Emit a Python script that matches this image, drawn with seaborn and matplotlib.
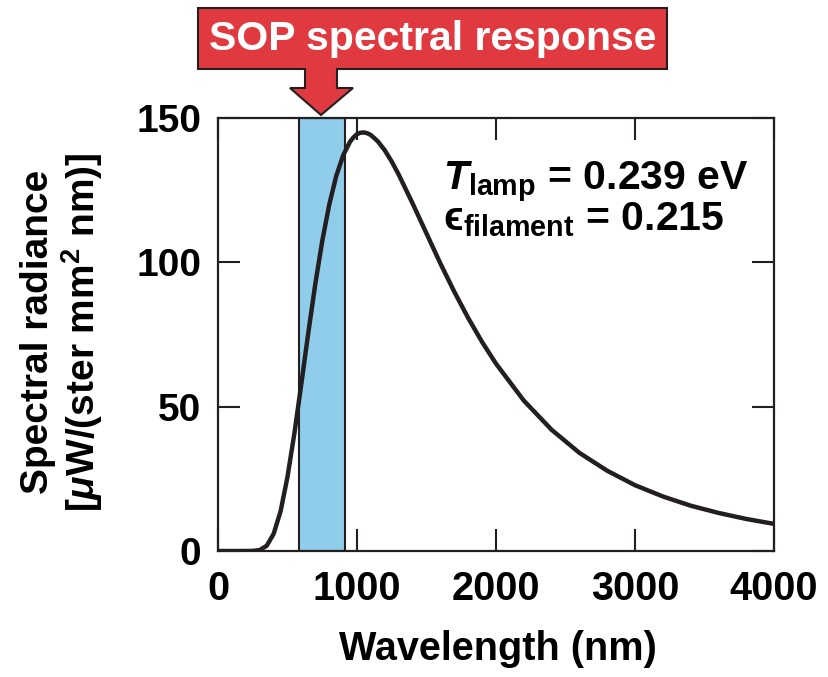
import matplotlib
matplotlib.use("Agg")
import matplotlib.pyplot as plt
import seaborn as sns
import pandas as pd
from matplotlib.patches import Polygon

# ---- data ----
wavelength_nm = [0, 100, 200, 250, 300, 350, 400, 450, 500, 550, 600, 650, 700, 750,
                 800, 850, 900, 950, 975, 1000, 1025, 1050, 1075, 1100, 1150, 1200, 1250,
                 1300, 1400, 1500, 1600,
                 1700, 1800, 1900, 2000, 2200, 2400, 2600, 2800, 3000, 3200, 3400,
                 3600, 3800, 4000]
radiance = [0.0, 0.0, 0.0, 0.03, 0.33, 1.8, 5.9, 13.7, 25.7, 40.9, 58.1, 75.7, 92.5, 107.4,
            119.9, 129.8, 137.0, 141.8, 143.3, 144.4, 144.9, 145.0, 144.7, 144.1, 141.9, 138.8, 134.9,
            130.4, 120.4, 110.0, 99.6,
            89.8, 80.7, 72.4, 64.9, 52.1, 42.0, 34.0, 27.8, 22.8, 18.9, 15.7,
            13.2, 11.1, 9.4]
band_nm = [585, 915]
x_ticks = [0, 1000, 2000, 3000, 4000]
y_ticks = [0, 50, 100, 150]
title_text = "SOP spectral response"
ann_line1 = r"$T_{\mathrm{lamp}}$ = 0.239 eV"
ann_line2 = r"$\mathrm{ϵ}_{\mathrm{filament}}$ = 0.215"

sns.set_theme(style="ticks")
plt.rcParams["font.family"] = ["Liberation Sans", "DejaVu Sans"]
plt.rcParams["font.weight"] = "bold"
plt.rcParams["mathtext.fontset"] = "custom"
plt.rcParams["mathtext.rm"] = "Liberation Sans:bold"
plt.rcParams["mathtext.it"] = "Liberation Sans:italic:bold"
plt.rcParams["mathtext.bf"] = "Liberation Sans:bold"
plt.rcParams["mathtext.fallback"] = "stixsans"
plt.rcParams["text.color"] = "black"
plt.rcParams["axes.labelcolor"] = "black"

W, H = 829, 677
fig = plt.figure(figsize=(W / 100, H / 100), dpi=100)
ax = fig.add_axes([218 / W, (H - 551) / H, (774 - 218) / W, (551 - 118) / H])

dark = "#231f20"
ax.axvspan(band_nm[0], band_nm[1], facecolor="#8fcdeb", edgecolor=dark, linewidth=1.5, zorder=1)

df = pd.DataFrame({"Wavelength": wavelength_nm, "Radiance": radiance})
sns.lineplot(data=df, x="Wavelength", y="Radiance", ax=ax, color=dark, linewidth=3.2, zorder=3)

ax.set_xlim(0, 4000)
ax.set_ylim(0, 150)
ax.set_xticks(x_ticks)
ax.set_yticks(y_ticks)
ax.set_xticklabels([str(v) for v in x_ticks])
ax.set_yticklabels([str(v) for v in y_ticks])
ax.tick_params(direction="in", length=16, width=1.5, colors=dark, labelcolor="black",
               top=True, right=True)
ax.tick_params(axis="x", labelsize=28.5, pad=13.5)
ax.tick_params(axis="y", labelsize=28, pad=12)
for lab in ax.get_xticklabels() + ax.get_yticklabels():
    lab.set_fontweight("bold")
for s in ax.spines.values():
    s.set_linewidth(1.6)
    s.set_color(dark)

ax.set_xlabel("Wavelength (nm)", fontsize=28.5, fontweight="bold")
ax.xaxis.set_label_coords(0.503, -0.182)
ax.set_ylabel("Spectral radiance\n" + r"[$\mu$W/(ster mm$^2$ nm)]", fontsize=28,
              fontweight="bold", linespacing=1.1)
ax.yaxis.set_label_coords(-0.203, 0.506)

ax.text(0.405, 0.836, ann_line1, transform=ax.transAxes, fontsize=29.5, fontweight="bold",
        va="baseline")
ax.text(0.405, 0.741, ann_line2, transform=ax.transAxes, fontsize=29.5, fontweight="bold",
        va="baseline")

# title box with arrow, in pixel coordinates (y from top)
pts = [(198, 8), (667, 8), (667, 69), (337, 69), (337, 88), (353, 88), (321, 115),
       (290, 88), (305, 88), (305, 69), (198, 69)]
poly = Polygon([(x / W, 1 - y / H) for x, y in pts], closed=True, transform=fig.transFigure,
               facecolor="#e03a40", edgecolor=dark, linewidth=1.5, zorder=5)
fig.patches.append(poly)
fig.text(433 / W, 1 - 39 / H, title_text, color="white", fontsize=29.5, fontweight="bold",
         ha="center", va="center", zorder=6)

fig.savefig("out.png", dpi=100)
